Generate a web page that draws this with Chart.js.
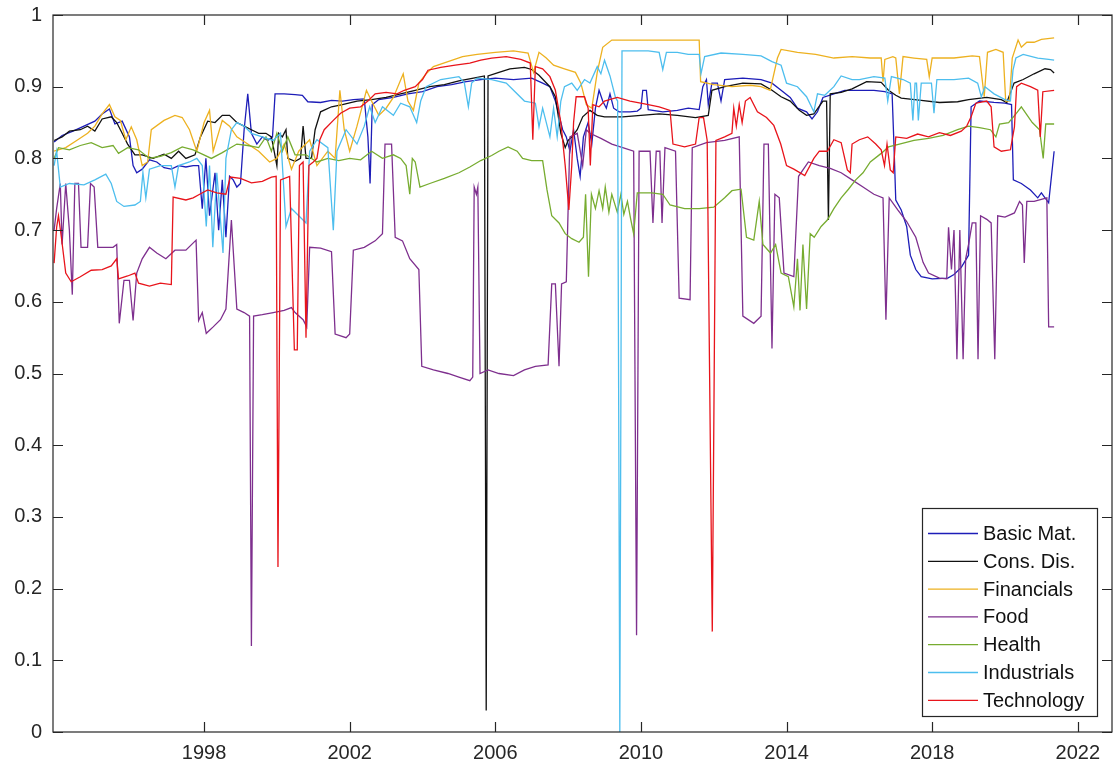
<!DOCTYPE html>
<html>
<head>
<meta charset="utf-8">
<title>Sector series</title>
<script src="https://cdn.jsdelivr.net/npm/chart.js@4.4.1/dist/chart.umd.min.js"></script>
<style>
  html, body { margin: 0; padding: 0; background: #ffffff; }
  #wrap { width: 1115px; height: 772px; position: relative; }
</style>
</head>
<body>
<div id="wrap"><canvas id="c"></canvas></div>
<script>
// ---- data: [decimal year, value] ----
const seriesNames = ['Basic Mat.', 'Cons. Dis.', 'Financials', 'Food', 'Health', 'Industrials', 'Technology'];
const yearTicks = [1998, 2002, 2006, 2010, 2014, 2018, 2022];
const valueTicks = [0, 0.1, 0.2, 0.3, 0.4, 0.5, 0.6, 0.7, 0.8, 0.9, 1];

const basicMat = [
  [1993.88,0.823],[1994.1,0.832],[1994.4,0.838],[1994.7,0.845],[1995.0,0.852],[1995.2,0.862],[1995.4,0.869],
  [1995.55,0.848],[1995.75,0.852],[1995.95,0.83],[1996.05,0.79],[1996.15,0.78],[1996.3,0.785],[1996.5,0.798],
  [1996.7,0.795],[1996.9,0.787],[1997.1,0.785],[1997.3,0.79],[1997.5,0.788],[1997.7,0.79],[1997.85,0.79],
  [1997.95,0.73],[1998.05,0.80],[1998.15,0.72],[1998.3,0.78],[1998.4,0.70],[1998.5,0.77],[1998.6,0.69],
  [1998.7,0.775],[1998.8,0.77],[1998.9,0.76],[1999.0,0.765],[1999.1,0.84],[1999.2,0.89],[1999.3,0.835],
  [1999.45,0.82],[1999.6,0.83],[1999.75,0.825],[1999.88,0.83],[1999.95,0.89],[2000.2,0.89],[2000.5,0.889],
  [2000.7,0.888],[2000.85,0.879],[2001.2,0.878],[2001.5,0.881],[2001.8,0.88],[2002.1,0.882],[2002.4,0.883],
  [2002.5,0.83],[2002.56,0.765],[2002.62,0.875],[2002.8,0.882],[2003.2,0.885],[2003.6,0.89],[2004.0,0.893],
  [2004.4,0.9],[2004.8,0.903],[2005.2,0.907],[2005.6,0.91],[2006.0,0.912],[2006.5,0.91],[2007.0,0.912],
  [2007.3,0.905],[2007.5,0.9],[2007.65,0.88],[2007.75,0.86],[2007.85,0.84],[2007.95,0.83],[2008.05,0.81],
  [2008.15,0.84],[2008.25,0.8],[2008.33,0.775],[2008.42,0.83],[2008.55,0.85],[2008.65,0.82],[2008.75,0.87],
  [2008.85,0.895],[2008.95,0.88],[2009.05,0.87],[2009.15,0.89],[2009.25,0.87],[2009.4,0.865],[2009.7,0.865],
  [2009.9,0.866],[2010.0,0.87],[2010.05,0.895],[2010.15,0.895],[2010.2,0.868],[2010.6,0.865],[2011.0,0.867],
  [2011.3,0.87],[2011.6,0.868],[2011.7,0.9],[2011.8,0.91],[2011.85,0.875],[2011.95,0.905],[2012.1,0.905],
  [2012.2,0.88],[2012.3,0.91],[2012.8,0.912],[2013.3,0.91],[2013.6,0.905],[2013.85,0.895],[2014.1,0.885],
  [2014.3,0.87],[2014.55,0.865],[2014.7,0.855],[2014.85,0.865],[2015.0,0.885],[2015.3,0.89],[2015.6,0.895],
  [2016.0,0.895],[2016.4,0.895],[2016.7,0.893],[2016.9,0.89],[2016.95,0.82],[2017.0,0.742],[2017.15,0.728],
  [2017.3,0.705],[2017.4,0.665],[2017.55,0.645],[2017.7,0.635],[2018.0,0.632],[2018.43,0.633],[2018.6,0.638],
  [2018.8,0.648],[2019.0,0.665],[2019.07,0.872],[2019.3,0.88],[2019.7,0.878],[2020.0,0.877],[2020.18,0.875],
  [2020.23,0.77],[2020.45,0.765],[2020.7,0.756],[2020.9,0.745],[2021.0,0.752],[2021.2,0.738],[2021.35,0.81]
];

const consDis = [
  [1993.88,0.825],[1994.1,0.83],[1994.3,0.838],[1994.6,0.84],[1994.8,0.845],[1995.0,0.838],[1995.2,0.855],
  [1995.45,0.858],[1995.6,0.85],[1995.75,0.835],[1995.9,0.82],[1996.1,0.805],[1996.3,0.805],[1996.6,0.8],
  [1996.9,0.806],[1997.1,0.8],[1997.3,0.81],[1997.5,0.8],[1997.75,0.805],[1997.9,0.83],[1998.1,0.852],
  [1998.3,0.85],[1998.5,0.86],[1998.7,0.86],[1998.9,0.85],[1999.1,0.845],[1999.3,0.84],[1999.5,0.835],
  [1999.7,0.835],[1999.85,0.83],[2000.0,0.79],[2000.05,0.835],[2000.15,0.83],[2000.25,0.84],[2000.3,0.80],
  [2000.5,0.796],[2000.65,0.8],[2000.72,0.845],[2000.8,0.8],[2000.95,0.8],[2001.05,0.84],[2001.2,0.865],
  [2001.5,0.872],[2001.8,0.875],[2002.2,0.88],[2002.6,0.882],[2003.0,0.885],[2003.4,0.89],[2003.8,0.895],
  [2004.2,0.9],[2004.6,0.903],[2005.0,0.908],[2005.4,0.912],[2005.7,0.915],[2005.75,0.03],[2005.8,0.915],
  [2006.1,0.92],[2006.4,0.925],[2006.8,0.927],[2007.0,0.924],[2007.2,0.916],[2007.5,0.9],[2007.65,0.886],
  [2007.8,0.835],[2007.92,0.815],[2008.0,0.825],[2008.1,0.83],[2008.25,0.84],[2008.4,0.858],[2008.6,0.867],
  [2008.8,0.86],[2009.0,0.858],[2009.5,0.858],[2010.0,0.86],[2010.5,0.862],[2011.0,0.86],[2011.5,0.857],
  [2011.85,0.86],[2011.95,0.895],[2012.3,0.9],[2012.8,0.905],[2013.3,0.904],[2013.6,0.895],[2013.85,0.886],
  [2014.1,0.88],[2014.35,0.867],[2014.55,0.86],[2014.75,0.862],[2015.0,0.88],[2015.1,0.88],[2015.15,0.714],
  [2015.2,0.89],[2015.5,0.892],[2015.8,0.897],[2016.2,0.907],[2016.6,0.906],[2016.8,0.895],[2017.0,0.888],
  [2017.15,0.884],[2017.7,0.881],[2018.2,0.878],[2018.7,0.879],[2019.0,0.882],[2019.5,0.885],[2019.9,0.882],
  [2020.05,0.878],[2020.25,0.905],[2020.5,0.91],[2020.8,0.918],[2021.1,0.925],[2021.25,0.924],[2021.35,0.919]
];

const financials = [
  [1993.88,0.81],[1994.2,0.815],[1994.5,0.825],[1994.8,0.835],[1995.0,0.845],[1995.2,0.862],[1995.4,0.875],
  [1995.55,0.858],[1995.7,0.853],[1995.85,0.826],[1996.0,0.844],[1996.15,0.826],[1996.3,0.79],[1996.45,0.795],
  [1996.55,0.84],[1996.9,0.853],[1997.2,0.86],[1997.4,0.857],[1997.6,0.84],[1997.8,0.81],[1998.0,0.85],
  [1998.15,0.867],[1998.25,0.81],[1998.5,0.853],[1998.7,0.845],[1998.9,0.83],[1999.2,0.82],[1999.5,0.81],
  [1999.8,0.795],[2000.0,0.8],[2000.2,0.82],[2000.4,0.785],[2000.6,0.81],[2000.9,0.826],[2001.1,0.79],
  [2001.4,0.81],[2001.6,0.8],[2001.73,0.895],[2001.85,0.84],[2002.0,0.81],[2002.2,0.845],[2002.46,0.895],
  [2002.6,0.88],[2002.8,0.86],[2003.0,0.87],[2003.2,0.885],[2003.47,0.918],[2003.6,0.88],[2003.75,0.867],
  [2003.9,0.905],[2004.1,0.918],[2004.3,0.928],[2004.7,0.935],[2005.1,0.942],[2005.5,0.945],[2006.0,0.948],
  [2006.5,0.95],[2006.9,0.947],[2007.05,0.92],[2007.2,0.948],[2007.4,0.94],[2007.6,0.93],[2007.9,0.925],
  [2008.2,0.92],[2008.35,0.905],[2008.5,0.875],[2008.65,0.87],[2008.8,0.92],[2008.95,0.955],[2009.2,0.965],
  [2010.0,0.965],[2010.8,0.965],[2011.6,0.965],[2011.64,0.907],[2012.0,0.903],[2012.5,0.9],[2013.0,0.902],
  [2013.3,0.9],[2013.55,0.895],[2013.75,0.94],[2013.85,0.952],[2014.3,0.948],[2014.8,0.945],[2015.3,0.94],
  [2015.8,0.942],[2016.3,0.94],[2016.6,0.94],[2016.65,0.907],[2016.7,0.938],[2016.92,0.942],[2017.0,0.94],
  [2017.1,0.89],[2017.2,0.942],[2017.5,0.94],[2017.85,0.938],[2017.92,0.914],[2018.0,0.94],[2018.6,0.94],
  [2019.1,0.943],[2019.3,0.942],[2019.43,0.886],[2019.52,0.948],[2019.75,0.952],[2019.95,0.948],[2020.02,0.88],
  [2020.12,0.88],[2020.2,0.94],[2020.36,0.965],[2020.45,0.955],[2020.6,0.962],[2020.8,0.962],[2021.0,0.966],
  [2021.35,0.968]
];

const food = [
  [1993.88,0.70],[1993.95,0.73],[1994.05,0.765],[1994.1,0.68],[1994.2,0.765],[1994.3,0.70],[1994.38,0.61],
  [1994.45,0.765],[1994.55,0.765],[1994.62,0.676],[1994.8,0.676],[1994.88,0.765],[1994.98,0.76],[1995.08,0.676],
  [1995.5,0.676],[1995.6,0.68],[1995.67,0.57],[1995.8,0.63],[1995.95,0.63],[1996.05,0.574],[1996.15,0.64],
  [1996.3,0.66],[1996.5,0.676],[1996.7,0.668],[1996.95,0.66],[1997.2,0.672],[1997.5,0.672],[1997.78,0.686],
  [1997.85,0.574],[1997.95,0.585],[1998.06,0.556],[1998.25,0.565],[1998.45,0.575],[1998.6,0.59],[1998.75,0.714],
  [1998.9,0.59],[1999.1,0.585],[1999.25,0.58],[1999.3,0.12],[1999.36,0.58],[1999.6,0.582],[1999.9,0.585],
  [2000.2,0.588],[2000.4,0.592],[2000.5,0.585],[2000.72,0.575],[2000.82,0.565],[2000.9,0.676],[2001.2,0.675],
  [2001.5,0.67],[2001.6,0.555],[2001.9,0.55],[2002.0,0.555],[2002.1,0.672],[2002.4,0.676],[2002.7,0.685],
  [2002.9,0.695],[2002.97,0.82],[2003.15,0.82],[2003.25,0.69],[2003.45,0.685],[2003.65,0.66],[2003.9,0.645],
  [2003.98,0.51],[2004.3,0.505],[2004.7,0.5],[2005.0,0.495],[2005.3,0.49],[2005.38,0.495],[2005.42,0.76],
  [2005.48,0.75],[2005.52,0.76],[2005.58,0.5],[2005.8,0.505],[2006.1,0.5],[2006.5,0.497],[2006.8,0.505],
  [2007.1,0.51],[2007.45,0.512],[2007.55,0.625],[2007.65,0.625],[2007.75,0.51],[2007.82,0.625],[2007.95,0.628],
  [2008.05,0.83],[2008.25,0.835],[2008.4,0.79],[2008.5,0.84],[2008.6,0.835],[2008.9,0.828],[2009.2,0.82],
  [2009.5,0.815],[2009.8,0.81],[2009.88,0.135],[2009.95,0.81],[2010.25,0.81],[2010.33,0.71],[2010.42,0.81],
  [2010.52,0.81],[2010.58,0.71],[2010.66,0.815],[2010.95,0.81],[2011.05,0.605],[2011.35,0.603],[2011.41,0.815],
  [2011.8,0.822],[2012.3,0.825],[2012.7,0.83],[2012.8,0.58],[2013.1,0.57],[2013.3,0.58],[2013.38,0.82],
  [2013.5,0.82],[2013.6,0.535],[2013.68,0.75],[2013.8,0.745],[2013.93,0.64],[2014.2,0.635],[2014.33,0.775],
  [2014.6,0.795],[2014.9,0.79],[2015.2,0.786],[2015.5,0.78],[2015.8,0.77],[2016.1,0.76],[2016.4,0.75],
  [2016.65,0.745],[2016.73,0.575],[2016.82,0.745],[2017.06,0.728],[2017.3,0.712],[2017.55,0.69],[2017.75,0.655],
  [2017.9,0.64],[2018.2,0.633],[2018.4,0.632],[2018.45,0.704],[2018.53,0.645],[2018.6,0.70],[2018.68,0.52],
  [2018.76,0.70],[2018.85,0.52],[2018.92,0.66],[2019.0,0.68],[2019.1,0.71],[2019.2,0.71],[2019.26,0.52],
  [2019.33,0.72],[2019.5,0.715],[2019.62,0.71],[2019.72,0.52],[2019.8,0.72],[2020.0,0.718],[2020.26,0.724],
  [2020.4,0.74],[2020.48,0.735],[2020.53,0.654],[2020.6,0.74],[2020.8,0.74],[2021.15,0.745],[2021.2,0.565],
  [2021.35,0.565]
];

const health = [
  [1993.88,0.80],[1994.0,0.815],[1994.3,0.812],[1994.6,0.818],[1994.9,0.822],[1995.2,0.815],[1995.5,0.818],
  [1995.65,0.807],[1995.9,0.815],[1996.2,0.812],[1996.5,0.8],[1996.8,0.803],[1997.1,0.808],[1997.4,0.816],
  [1997.7,0.812],[1997.95,0.806],[1998.2,0.80],[1998.5,0.808],[1998.9,0.82],[1999.2,0.818],[1999.5,0.815],
  [1999.7,0.83],[1999.85,0.81],[2000.0,0.835],[2000.15,0.81],[2000.3,0.83],[2000.5,0.805],[2000.8,0.805],
  [2001.1,0.795],[2001.4,0.8],[2001.7,0.797],[2002.0,0.8],[2002.3,0.798],[2002.6,0.81],[2002.9,0.80],
  [2003.2,0.805],[2003.4,0.8],[2003.55,0.79],[2003.65,0.75],[2003.72,0.8],[2003.8,0.795],[2003.93,0.76],
  [2004.2,0.765],[2004.6,0.772],[2005.0,0.78],[2005.3,0.788],[2005.6,0.797],[2005.9,0.804],[2006.1,0.81],
  [2006.35,0.816],[2006.6,0.81],[2006.75,0.80],[2007.0,0.797],[2007.3,0.797],[2007.42,0.756],[2007.55,0.72],
  [2007.75,0.71],[2007.92,0.695],[2008.1,0.688],[2008.3,0.683],[2008.42,0.69],[2008.48,0.75],[2008.56,0.635],
  [2008.64,0.75],[2008.75,0.73],[2008.85,0.755],[2008.95,0.73],[2009.02,0.76],[2009.12,0.725],[2009.2,0.75],
  [2009.35,0.725],[2009.45,0.75],[2009.53,0.722],[2009.63,0.74],[2009.72,0.715],[2009.8,0.695],[2009.9,0.752],
  [2010.3,0.752],[2010.6,0.75],[2010.8,0.735],[2011.2,0.73],[2011.6,0.73],[2012.0,0.732],[2012.3,0.745],
  [2012.5,0.755],[2012.75,0.757],[2012.9,0.69],[2013.1,0.686],[2013.25,0.74],[2013.35,0.68],[2013.56,0.668],
  [2013.7,0.68],[2013.85,0.64],[2014.05,0.635],[2014.2,0.593],[2014.3,0.66],[2014.37,0.588],[2014.45,0.68],
  [2014.55,0.59],[2014.65,0.695],[2014.76,0.69],[2014.95,0.705],[2015.12,0.714],[2015.3,0.73],[2015.5,0.745],
  [2015.7,0.757],[2015.9,0.77],[2016.1,0.78],[2016.3,0.795],[2016.6,0.807],[2016.8,0.816],[2017.1,0.82],
  [2017.5,0.825],[2017.9,0.828],[2018.3,0.832],[2018.7,0.84],[2019.0,0.845],[2019.3,0.843],[2019.6,0.84],
  [2019.75,0.83],[2019.85,0.848],[2020.1,0.85],[2020.3,0.862],[2020.45,0.872],[2020.75,0.85],[2020.95,0.84],
  [2021.05,0.80],[2021.12,0.848],[2021.35,0.848]
];

const industrials = [
  [1993.88,0.79],[1993.95,0.81],[1994.05,0.76],[1994.3,0.765],[1994.7,0.763],[1995.0,0.77],[1995.3,0.778],
  [1995.45,0.765],[1995.6,0.74],[1995.8,0.733],[1996.1,0.735],[1996.25,0.74],[1996.32,0.78],[1996.4,0.745],
  [1996.5,0.785],[1996.8,0.79],[1997.1,0.79],[1997.2,0.76],[1997.3,0.79],[1997.6,0.795],[1997.8,0.8],
  [1997.95,0.79],[1998.06,0.705],[1998.15,0.79],[1998.24,0.676],[1998.35,0.78],[1998.52,0.668],[1998.6,0.8],
  [1998.75,0.84],[1998.9,0.85],[1999.1,0.845],[1999.3,0.835],[1999.6,0.83],[1999.9,0.825],[2000.1,0.835],
  [2000.25,0.705],[2000.4,0.73],[2000.6,0.72],[2000.8,0.71],[2000.9,0.81],[2001.1,0.826],[2001.4,0.815],
  [2001.55,0.70],[2001.65,0.81],[2001.9,0.84],[2002.2,0.82],[2002.4,0.845],[2002.55,0.872],[2002.7,0.85],
  [2002.9,0.872],[2003.2,0.86],[2003.4,0.877],[2003.65,0.872],[2003.84,0.85],[2003.95,0.88],[2004.1,0.9],
  [2004.5,0.91],[2005.0,0.914],[2005.15,0.905],[2005.26,0.872],[2005.35,0.905],[2005.5,0.912],[2005.9,0.91],
  [2006.3,0.905],[2006.5,0.895],[2006.8,0.88],[2007.1,0.877],[2007.2,0.844],[2007.3,0.87],[2007.5,0.83],
  [2007.6,0.87],[2007.7,0.83],[2007.8,0.88],[2007.9,0.90],[2008.1,0.905],[2008.25,0.895],[2008.45,0.91],
  [2008.6,0.905],[2008.8,0.928],[2008.9,0.918],[2009.0,0.937],[2009.15,0.915],[2009.3,0.885],[2009.36,0.88],
  [2009.42,0.0],[2009.48,0.95],[2009.8,0.95],[2010.2,0.95],[2010.5,0.948],[2010.6,0.924],[2010.7,0.948],
  [2011.0,0.948],[2011.3,0.945],[2011.6,0.945],[2011.65,0.918],[2011.75,0.942],[2012.2,0.947],[2012.8,0.945],
  [2013.3,0.943],[2013.6,0.935],[2013.85,0.93],[2014.0,0.905],[2014.3,0.9],[2014.55,0.886],[2014.75,0.865],
  [2014.85,0.89],[2015.05,0.888],[2015.3,0.9],[2015.5,0.915],[2015.8,0.91],[2016.0,0.91],[2016.4,0.914],
  [2016.7,0.912],[2016.78,0.88],[2016.88,0.914],[2017.2,0.91],[2017.4,0.905],[2017.47,0.853],[2017.53,0.905],
  [2017.57,0.905],[2017.62,0.853],[2017.7,0.905],[2017.98,0.905],[2018.05,0.863],[2018.13,0.91],[2018.6,0.91],
  [2019.0,0.912],[2019.25,0.905],[2019.35,0.886],[2019.45,0.9],[2019.7,0.89],[2020.0,0.882],[2020.15,0.88],
  [2020.22,0.923],[2020.3,0.94],[2020.5,0.945],[2020.9,0.94],[2021.2,0.938],[2021.35,0.937]
];

const technology = [
  [1993.88,0.654],[1993.95,0.704],[1994.0,0.72],[1994.08,0.69],[1994.2,0.64],[1994.35,0.628],[1994.6,0.635],
  [1994.9,0.644],[1995.2,0.645],[1995.45,0.65],[1995.6,0.66],[1995.65,0.632],[1995.9,0.636],[1996.1,0.64],
  [1996.2,0.626],[1996.5,0.622],[1996.8,0.626],[1997.1,0.624],[1997.15,0.746],[1997.5,0.742],[1997.7,0.745],
  [1997.88,0.75],[1998.1,0.756],[1998.35,0.752],[1998.6,0.75],[1998.72,0.774],[1999.0,0.772],[1999.3,0.766],
  [1999.6,0.768],[1999.85,0.774],[1999.98,0.775],[2000.03,0.23],[2000.1,0.77],[2000.35,0.775],[2000.48,0.533],
  [2000.56,0.533],[2000.62,0.79],[2000.72,0.795],[2000.8,0.55],[2000.88,0.79],[2001.0,0.795],[2001.1,0.80],
  [2001.18,0.826],[2001.3,0.84],[2001.55,0.853],[2001.75,0.863],[2002.0,0.87],[2002.3,0.872],[2002.5,0.88],
  [2002.7,0.89],[2003.0,0.892],[2003.3,0.89],[2003.5,0.895],[2003.8,0.9],[2004.0,0.91],[2004.15,0.923],
  [2004.5,0.927],[2004.9,0.93],[2005.3,0.933],[2005.6,0.937],[2005.9,0.94],[2006.3,0.942],[2006.7,0.938],
  [2006.96,0.933],[2007.03,0.826],[2007.1,0.928],[2007.3,0.925],[2007.5,0.914],[2007.65,0.895],[2007.8,0.85],
  [2007.92,0.79],[2008.02,0.728],[2008.1,0.79],[2008.15,0.85],[2008.22,0.886],[2008.45,0.886],[2008.55,0.87],
  [2008.61,0.79],[2008.68,0.875],[2008.85,0.872],[2009.0,0.88],[2009.35,0.885],[2009.7,0.88],[2010.1,0.876],
  [2010.5,0.872],[2010.8,0.867],[2010.88,0.82],[2011.2,0.816],[2011.5,0.82],[2011.6,0.857],[2011.72,0.857],
  [2011.82,0.825],[2011.96,0.14],[2012.06,0.825],[2012.3,0.83],[2012.5,0.835],[2012.55,0.87],[2012.62,0.845],
  [2012.7,0.875],[2012.78,0.85],[2012.87,0.88],[2013.0,0.885],[2013.2,0.865],[2013.45,0.857],[2013.65,0.846],
  [2013.84,0.82],[2014.0,0.79],[2014.2,0.785],[2014.5,0.776],[2014.75,0.8],[2014.9,0.81],[2015.12,0.81],
  [2015.3,0.826],[2015.5,0.822],[2015.67,0.784],[2015.75,0.78],[2015.8,0.82],[2016.0,0.826],[2016.23,0.83],
  [2016.45,0.82],[2016.6,0.812],[2016.69,0.79],[2016.76,0.82],[2016.85,0.784],[2016.93,0.78],[2017.0,0.83],
  [2017.3,0.828],[2017.6,0.834],[2017.9,0.83],[2018.2,0.836],[2018.5,0.832],[2018.8,0.838],[2018.95,0.845],
  [2019.07,0.858],[2019.2,0.877],[2019.5,0.88],[2019.62,0.872],[2019.7,0.816],[2019.9,0.81],[2020.15,0.812],
  [2020.26,0.844],[2020.32,0.9],[2020.45,0.905],[2020.7,0.9],[2020.9,0.895],[2020.97,0.83],[2021.04,0.893],
  [2021.35,0.895]
];

// ---- styling ----
const seriesData = [basicMat, consDis, financials, food, health, industrials, technology];
const seriesColors = ['#1d1db8', '#111111', '#EDB120', '#7E2F8E', '#77AC30', '#4DBEEE', '#E8141B'];
const AXIS_COLOR = '#262626';
const FONT_FAMILY = "'Liberation Sans', Arial, Helvetica, sans-serif";
const FONT_SIZE = 20;

const datasets = seriesData.map((pts, i) => ({
  label: seriesNames[i],
  data: pts.map(p => ({ x: p[0], y: p[1] })),
  borderColor: seriesColors[i],
  backgroundColor: seriesColors[i],
  borderWidth: 1.3,
  pointRadius: 0,
  tension: 0,
  fill: false,
  order: seriesData.length - i   // later series drawn on top
}));

// Axes box with inward tick marks on all four sides, plus the value labels
const boxPlugin = {
  id: 'axesBox',
  afterDatasetsDraw(chart) {
    const { ctx, chartArea: a, scales } = chart;
    const len = 10;
    ctx.save();
    ctx.strokeStyle = AXIS_COLOR;
    ctx.lineWidth = 1.2;
    ctx.strokeRect(a.left, a.top, a.right - a.left, a.bottom - a.top);
    ctx.beginPath();
    yearTicks.forEach(v => {
      const x = Math.round(scales.x.getPixelForValue(v)) + 0.5;
      ctx.moveTo(x, a.bottom); ctx.lineTo(x, a.bottom - len);
      ctx.moveTo(x, a.top); ctx.lineTo(x, a.top + len);
    });
    valueTicks.forEach(v => {
      const y = Math.round(scales.y.getPixelForValue(v)) + 0.5;
      ctx.moveTo(a.left, y); ctx.lineTo(a.left + len, y);
      ctx.moveTo(a.right, y); ctx.lineTo(a.right - len, y);
    });
    ctx.stroke();
    ctx.fillStyle = AXIS_COLOR;
    ctx.font = FONT_SIZE + 'px ' + FONT_FAMILY;
    ctx.textAlign = 'right';
    ctx.textBaseline = 'middle';
    valueTicks.forEach(v => {
      const y = scales.y.getPixelForValue(v);
      ctx.fillText(String(Math.round(v * 10) / 10), a.left - 11, y);
    });
    ctx.restore();
  }
};

// Boxed legend in the lower-right corner of the plot
const legendPlugin = {
  id: 'boxLegend',
  afterDraw(chart) {
    const { ctx, chartArea: a } = chart;
    const boxW = 175, boxH = 208;
    const bx = a.right - 14.5 - boxW, by = a.bottom - 15.5 - boxH;
    ctx.save();
    ctx.fillStyle = '#ffffff';
    ctx.fillRect(bx, by, boxW, boxH);
    ctx.strokeStyle = AXIS_COLOR;
    ctx.lineWidth = 1.2;
    ctx.strokeRect(bx, by, boxW, boxH);
    ctx.font = FONT_SIZE + 'px ' + FONT_FAMILY;
    ctx.textBaseline = 'middle';
    ctx.textAlign = 'left';
    chart.data.datasets.forEach((ds, i) => {
      const y = by + 25 + i * 27.8;
      ctx.strokeStyle = ds.borderColor;
      ctx.lineWidth = 1.3;
      ctx.beginPath();
      ctx.moveTo(bx + 5.5, y); ctx.lineTo(bx + 55.5, y);
      ctx.stroke();
      ctx.fillStyle = '#111111';
      ctx.fillText(ds.label, bx + 60.5, y + 1);
    });
    ctx.restore();
  }
};

new Chart(document.getElementById('c'), {
  type: 'line',
  data: { datasets },
  options: {
    responsive: true,
    maintainAspectRatio: false,
    animation: false,
    events: [],
    layout: { padding: { top: 15, right: 3, left: 0, bottom: 0 } },
    plugins: { legend: { display: false }, tooltip: { enabled: false } },
    scales: {
      x: {
        type: 'linear',
        min: 1993.85,
        max: 2022.94,
        afterBuildTicks: s => { s.ticks = yearTicks.map(v => ({ value: v })); },
        afterFit: s => { s.height = 40; },
        grid: { display: false, drawTicks: false },
        border: { display: false },
        ticks: {
          color: AXIS_COLOR,
          font: { family: FONT_FAMILY, size: FONT_SIZE },
          padding: 9,
          maxRotation: 0,
          autoSkip: false,
          callback: v => String(v)
        }
      },
      y: {
        type: 'linear',
        min: 0,
        max: 1,
        afterBuildTicks: s => { s.ticks = valueTicks.map(v => ({ value: v })); },
        afterFit: s => { s.width = 53; },
        grid: { display: false, drawTicks: false },
        border: { display: false },
        ticks: { display: false }
      }
    }
  },
  plugins: [boxPlugin, legendPlugin]
});
</script>
</body>
</html>
